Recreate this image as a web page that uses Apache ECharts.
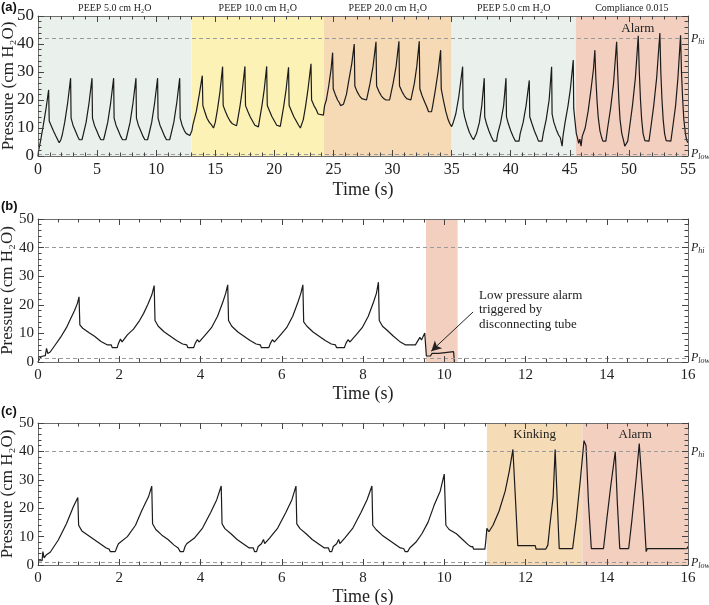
<!DOCTYPE html>
<html><head><meta charset="utf-8">
<script src="https://cdn.jsdelivr.net/npm/echarts@6/dist/echarts.min.js"></script>
<style>html,body{margin:0;padding:0;background:#fff}#c{width:709px;height:605px}</style>
</head><body><div id="c"></div>
<script>
// ---------------- data ----------------
const traceA = [
[0,0],[0.05,2],[0.2,5],[0.45,11],[0.7,17.5],[0.9,23.6],[0.95,12.5],[1.1,11],[1.3,9],[1.5,7.2],[1.7,5.5],[1.8,4.7],[1.9,4.7],
[1.95,6],[2.05,7.5],[2.26,12],[2.51,19],[2.76,27.8],[2.8,13.5],[2.96,11],[3.16,9],[3.36,7],[3.5,5.8],[3.72,5.8],
[3.82,7.5],[4.07,12],[4.32,19],[4.57,27.8],[4.61,13.5],[4.77,11],[4.97,9],[5.17,7],[5.32,5.8],[5.55,5.8],
[5.65,7.5],[5.9,12],[6.15,19],[6.4,27.8],[6.44,13.5],[6.6,11],[6.8,9],[7.0,7],[7.15,5.8],[7.44,5.8],
[7.54,7.5],[7.79,12],[8.04,19],[8.29,27.8],[8.33,13.5],[8.49,11],[8.69,9],[8.89,7],[9.04,5.8],[9.27,5.8],
[9.37,7.5],[9.62,12],[9.87,19],[10.12,27.8],[10.16,13.5],[10.32,11],[10.52,9],[10.72,7],[10.87,5.8],[11.14,5.8],
[11.24,7.5],[11.49,12],[11.74,19],[11.99,27.8],[12.03,13.5],[12.19,11],[12.39,9],[12.55,8],[12.7,7.8],[12.85,7.3],[12.98,6.8],
[13.02,9],[13.1,11],[13.4,16],[13.65,22],[13.9,28.7],[13.95,18],[14.1,16],[14.3,13.5],[14.5,12],[14.7,11],[14.85,10],[14.9,10],
[15.0,12],[15.2,17],[15.4,23],[15.62,31.9],[15.67,18],[15.85,16],[16.05,14],[16.25,12.5],[16.45,11.5],[16.6,10.8],[16.8,10.8],
[16.9,13],[17.1,18],[17.3,24],[17.51,32],[17.56,18],[17.75,16],[17.95,14],[18.15,12.5],[18.35,11],[18.5,10.4],[18.65,10.4],
[18.75,13],[18.95,18],[19.15,24],[19.35,32],[19.4,18],[19.6,16],[19.8,14],[20.0,12.5],[20.2,11],[20.35,10.6],[20.5,10.6],
[20.6,13],[20.8,18],[21.0,24],[21.2,31.7],[21.25,18],[21.45,16],[21.65,14],[21.85,12.5],[22.05,11],[22.2,10],[22.35,10.6],
[22.45,13],[22.65,18],[22.85,24],[23.1,32.9],[23.15,20],[23.35,18],[23.55,16.5],[23.7,15],[23.85,14.6],[24.15,14.6],
[24.2,15],[24.25,18],[24.4,20],[24.6,25],[24.8,31],[24.93,36.9],[24.98,24],[25.15,22],[25.35,20],[25.5,19],[25.6,18],[25.85,18.5],[25.95,19],
[26.1,22],[26.3,27],[26.55,33],[26.76,40],[26.81,25],[27.0,23],[27.2,21.5],[27.4,20.5],[27.55,20],[27.8,20],
[27.9,22],[28.1,26],[28.35,32],[28.6,40.8],[28.65,25],[28.85,23],[29.05,21.5],[29.25,20.5],[29.45,20],[29.75,20],
[29.85,22],[30.05,26],[30.3,32],[30.54,41],[30.59,25],[30.8,23],[31.0,21.5],[31.2,20.5],[31.35,20],[31.55,20],
[31.65,22],[31.85,26],[32.05,32],[32.26,41],[32.31,24],[32.5,21.5],[32.7,19.5],[32.9,17.5],[33.05,15.8],[33.3,15.8],
[33.4,18],[33.6,23],[33.85,30],[34.07,37.8],[34.12,24],[34.3,20],[34.5,16],[34.7,13],[34.85,11.5],[35.0,10.5],
[35.1,11.5],[35.35,15],[35.6,21],[35.93,31.9],[35.97,17],[36.1,14],[36.3,11],[36.5,8.5],[36.7,6.8],[36.85,5.8],[37.0,5.8],
[37.1,8],[37.35,12],[37.55,18],[37.76,27.8],[37.8,14],[37.95,11.5],[38.15,9],[38.35,7],[38.55,5.3],[38.8,5.3],
[38.9,8],[39.15,12],[39.4,18],[39.6,27.8],[39.64,14],[39.8,11.5],[40.0,9],[40.2,7],[40.4,5.3],[40.7,5.3],
[40.8,8],[41.05,12],[41.3,18],[41.57,27],[41.61,14],[41.8,11.5],[42.0,9],[42.2,7],[42.35,5.3],[42.65,5.3],
[42.75,8],[43.0,13],[43.25,20],[43.46,31.9],[43.5,15],[43.65,12],[43.85,9.5],[44.05,7.5],[44.2,6.5],[44.3,6.8],[44.35,3.5],[44.42,7],
[44.6,12],[44.85,18],[45.05,24],[45.29,34.3],[45.33,17],[45.45,12],[45.55,8],
[45.65,6.5],[45.75,4.5],[45.85,6],[45.95,3.5],[46.05,7],[46.15,6.5],[46.3,10],[46.55,16],[46.8,24],[47.0,31],[47.12,37.8],[47.2,28],[47.3,20],[47.4,14],[47.55,9],[47.7,6.5],[47.8,5.3],[48.05,5.3],
[48.2,10],[48.45,17],[48.7,26],[48.96,40.8],[49.05,30],[49.15,20],[49.25,13],[49.4,8],[49.55,5.5],[49.65,3.5],[49.8,3.8],[49.9,5.3],
[50.05,10],[50.3,18],[50.55,28],[50.79,42.9],[50.88,30],[50.98,20],[51.08,13],[51.2,8],[51.35,5.5],[51.45,5.3],[51.7,5.3],
[51.85,10],[52.1,18],[52.35,28],[52.62,43.9],[52.7,30],[52.8,20],[52.9,13],[53.02,8],[53.15,5.5],[53.25,5.3],[53.55,5.3],
[53.7,10],[53.95,18],[54.15,28],[54.37,43.1],[54.45,30],[54.55,20],[54.65,13],[54.78,8],[54.9,5.5],[55.0,4.7]
];
const traceB = [
[0,0],[0.05,1.5],[0.1,2],[0.18,2.2],[0.21,4.8],[0.24,3],[0.3,3.5],[0.4,5.5],[0.55,8.5],[0.7,12],[0.8,15],[0.9,18],[0.97,20.5],[1.01,22.8],[1.03,13],[1.1,11.8],[1.25,10.3],[1.4,8.9],[1.55,7.2],[1.7,6],[1.8,6],[1.83,5],[1.95,5],
[1.98,6.5],[2.03,8],[2.07,7],[2.2,9.5],[2.35,11.5],[2.5,14.5],[2.6,17],[2.7,20],[2.8,23.4],[2.86,26.7],[2.88,14.5],[2.96,12.5],[3.11,10.5],[3.26,9],[3.41,7.5],[3.56,6.3],[3.66,6],[3.69,5],
[3.83,5],[3.87,6.5],[3.92,7.8],[3.97,7],[4.12,9.5],[4.27,12],[4.42,16],[4.55,21],[4.62,24],[4.67,27],[4.69,14.5],[4.77,12.5],[4.92,10.5],[5.07,9],[5.22,7.5],[5.37,6.3],[5.47,6],[5.5,5],
[5.68,5],[5.72,6.5],[5.77,7.8],[5.82,7],[5.97,9.5],[6.12,12],[6.27,16],[6.4,21],[6.47,24],[6.52,27],[6.54,14],[6.56,13.5],[6.62,12.5],[6.77,10.5],[6.92,9],[7.07,7.5],[7.22,6.3],[7.32,6],[7.35,5],
[7.54,5],[7.58,6.5],[7.63,7.8],[7.68,7],[7.83,9.5],[7.98,12],[8.13,16],[8.26,21],[8.33,24],[8.38,27.9],[8.4,14.5],[8.48,12.5],[8.6,11],[8.75,9],[8.9,7.2],[9.04,6],[9.29,6],[9.4,8.6],[9.44,7.7],[9.52,10.1],
[9.56,2.1],[9.66,2.1],[9.7,3],[9.86,3],[9.9,3.6],[10.23,3.6],[10.25,0]
];
const traceC = [
[0,1.5],[0.1,1.5],[0.12,4.7],[0.15,2.5],[0.2,3.5],[0.3,4.5],[0.5,8.8],[0.7,14.5],[0.87,20.5],[0.98,23.8],[1.0,14],[1.08,12],[1.23,10.5],[1.38,9],[1.53,7.5],[1.68,6],[1.75,5.6],[1.78,4.7],[1.9,4.7],
[1.95,6.5],[1.98,7.5],[2.02,6.8],[2.2,10],[2.4,14],[2.55,19],[2.65,22],[2.72,24],[2.8,27.8],[2.82,14.5],[2.9,12.5],[3.05,10.5],[3.2,9],[3.35,7],[3.45,6],[3.5,4.7],[3.58,4.7],
[3.62,6.5],[3.66,7.5],[3.7,6.8],[3.85,9.5],[4.05,13],[4.25,18.5],[4.4,23],[4.51,27.8],[4.53,14.5],[4.6,12.8],[4.75,11],[4.9,9],[5.05,7.5],[5.2,6],[5.3,6],[5.33,4.7],[5.38,4.7],
[5.42,6.5],[5.5,7.5],[5.55,9],[5.58,7.5],[5.7,9.5],[5.9,13],[6.1,18.5],[6.25,23],[6.35,27.8],[6.37,14.5],[6.45,12.8],[6.6,11],[6.75,9],[6.9,7.5],[7.05,6],[7.15,6],[7.18,4.7],[7.23,4.7],
[7.27,6.5],[7.35,7.5],[7.4,9],[7.43,7.5],[7.55,9.5],[7.75,13],[7.95,18.5],[8.1,23],[8.22,27.8],[8.24,14],[8.32,12.5],[8.47,10.5],[8.62,9],[8.77,7.5],[8.92,6],[9.0,5.8],[9.04,4.7],[9.1,4.7],
[9.15,6],[9.3,8],[9.45,11],[9.6,15],[9.75,21],[9.9,26],[9.95,29],[10.0,32],[10.04,14],[10.12,12.5],[10.3,11],[10.45,9],[10.6,7],[10.65,6.5],[10.7,6.5],[10.72,5.6],[11.0,5.6],[11.02,8],[11.05,12.9],[11.1,11.7],
[11.2,14],[11.35,19],[11.5,26],[11.6,33],[11.69,40.7],[11.75,24],[11.81,6.8],[12.24,6.8],[12.26,5.6],[12.5,5.6],[12.55,7],[12.6,14],[12.68,24],[12.73,40.7],[12.78,23],[12.83,5.8],[13.16,5.8],
[13.25,16],[13.35,30],[13.44,43.8],[13.49,42],[13.55,22],[13.62,5.8],[13.92,5.8],[14.0,16],[14.1,28],[14.21,39.9],[14.26,22],[14.32,5.8],[14.54,5.8],
[14.62,16],[14.72,30],[14.8,42.8],[14.84,42.5],[14.9,22],[14.97,4.7],[15.0,5.8],[15.97,5.8],[16.0,6.5]
];
const bandEdgesA = [[0,13],[13,24.2],[24.2,35],[35,45.5],[45.5,55]];
const bandLabelsA = ['PEEP 5.0 cm H\u2082O','PEEP 10.0 cm H\u2082O','PEEP 20.0 cm H\u2082O','PEEP 5.0 cm H\u2082O','Compliance 0.015'];
const bandEdgesB = [[9.55,10.33]];
const bandEdgesC = [[11.05,13.4],[13.4,16]];
const bandLabelsC = ['Kinking','Alarm'];
const alarmLabelA = 'Alarm';
const thresholdsA = [42, 0.6];
const thresholdsB = [40, 1.3];
const thresholdsC = [40, 0.8];
const arrowB = [[10.71,17.5],[9.68,3.8]];
const noteB = 'Low pressure alarm\ntriggered by\ndisconnecting tube';
// axis scales: [max, major interval, minor splits]
const xScaleA = [55, 5, 5];
const xScaleBC = [16, 2, 4];
const yScale = [50, 10, 5];

// ---------------- styles ----------------
const FONT = "'Liberation Serif','Times New Roman',serif";
const AX = '#6e6e6e';
const TK = '#444444';
const TXT = '#222';
const colorsA = ['#eaf1ec','#fcf2b6','#f6d9b5','#eaf1ec','#f3cfc0'];
const colorsB = ['#f3cfc0'];
const colorsC = ['#f6dbb7','#f3cfc0'];

const panels = [
  {top:16, height:140, xs:xScaleA, xFont:16, yFont:17, xGap:25, yGap:21, trace:traceA, thr:thresholdsA,
   bands:bandEdgesA, labels:bandLabelsA, colors:colorsA, labelPos:'top'},
  {top:219, height:143, xs:xScaleBC, xFont:15, yFont:15, xGap:23, yGap:22, trace:traceB, thr:thresholdsB,
   bands:bandEdgesB, labels:[''], colors:colorsB, labelPos:'top'},
  {top:423, height:142, xs:xScaleBC, xFont:15, yFont:15, xGap:23, yGap:22, trace:traceC, thr:thresholdsC,
   bands:bandEdgesC, labels:bandLabelsC, colors:colorsC, labelPos:'insideTop'}
];

const tick = {show:true, inside:true, length:6, lineStyle:{color:TK, width:1}};
function minor(n){ return {show:true, splitNumber:n, length:3.5, lineStyle:{color:TK, width:1}}; }

const grid=[], xAxis=[], yAxis=[], series=[];
panels.forEach((p,i)=>{
  grid.push({left:38, right:21, top:p.top, height:p.height, outerBoundsMode:'none', containLabel:false});
  const line = {show:true, onZero:false, lineStyle:{color:AX, width:1}};
  xAxis.push({type:'value', gridIndex:i, min:0, max:p.xs[0], interval:p.xs[1], position:'bottom', z:6,
    axisLine:line, axisTick:tick, minorTick:minor(p.xs[2]), splitLine:{show:false},
    axisLabel:{show:true, margin:6, fontSize:p.xFont, fontFamily:FONT, color:TXT},
    name:'Time (s)', nameLocation:'middle', nameGap:p.xGap, nameMoveOverlap:false,
    nameTextStyle:{fontSize:18, fontFamily:FONT, color:TXT}});
  xAxis.push({type:'value', gridIndex:i, min:0, max:p.xs[0], interval:p.xs[1], position:'top', z:6,
    axisLine:line, axisTick:tick, minorTick:minor(p.xs[2]), splitLine:{show:false}, axisLabel:{show:false}});
  yAxis.push({type:'value', gridIndex:i, min:0, max:yScale[0], interval:yScale[1], position:'left', z:6,
    axisLine:line, axisTick:tick, minorTick:minor(yScale[2]), splitLine:{show:false},
    axisLabel:{show:true, margin:4, fontSize:p.yFont, fontFamily:FONT, color:TXT},
    name:'Pressure (cm H\u2082O)', nameLocation:'middle', nameGap:p.yGap, nameMoveOverlap:false,
    nameTextStyle:{fontSize:17, fontFamily:FONT, color:TXT}});
  yAxis.push({type:'value', gridIndex:i, min:0, max:yScale[0], interval:yScale[1], position:'right', z:6,
    axisLine:line, axisTick:tick, minorTick:minor(yScale[2]), splitLine:{show:false}, axisLabel:{show:false}});

  const areaData = p.bands.map((b,k)=>[
    {xAxis:b[0], itemStyle:{color:p.colors[k]},
     label:{show:!!p.labels[k], position:p.labelPos, distance: i===0?3:5, formatter:p.labels[k],
       fontFamily:FONT, fontSize: i===0?10:13, color:TXT}},
    {xAxis:b[1]}]);
  if (i===0) {
    areaData.push([{xAxis:bandEdgesA[4][0], itemStyle:{color:'rgba(0,0,0,0)'},
      label:{show:true, position:'insideTop', distance:6, offset:[6,0], formatter:alarmLabelA, fontFamily:FONT, fontSize:13, color:TXT}},
      {xAxis:bandEdgesA[4][1]}]);
  }
  series.push({type:'line', xAxisIndex:2*i, yAxisIndex:2*i, data:[], silent:true, z:1,
    markArea:{silent:true, data:areaData}});

  const rich = {p:{fontFamily:FONT, fontStyle:'italic', fontSize:12, color:TXT, lineHeight:14, verticalAlign:'middle'},
                s:{fontFamily:FONT, fontStyle:'italic', fontSize:8, color:TXT, lineHeight:8, verticalAlign:'bottom'}};
  series.push({type:'line', xAxisIndex:2*i, yAxisIndex:2*i, data:p.trace, showSymbol:false, symbol:'none',
    lineStyle:{color:'#1b1b1b', width:1.2}, z:3,
    markLine:{silent:true, symbol:'none', lineStyle:{type:[4,3], color:'#9a9a9a', width:1},
      label:{show:true, position:'end', distance:3, rich:rich},
      data:[{yAxis:p.thr[0], label:{formatter:'{p|P}{s|hi}'}},{yAxis:p.thr[1], label:{formatter:'{p|P}{s|low}'}}]}});
});

// arrow annotation in panel (b)
series.push({type:'line', xAxisIndex:2, yAxisIndex:2, data:[], silent:true, z:4,
  markLine:{silent:true, symbol:['none','arrow'], symbolSize:[8,10], lineStyle:{type:'solid', color:'#222', width:1},
    label:{show:false},
    data:[[{coord:arrowB[0]},{coord:arrowB[1]}]]}});

const chart = echarts.init(document.getElementById('c'), null, {renderer:'canvas'});
chart.setOption({
  animation:false,
  grid, xAxis, yAxis, series,
  graphic:[
    {type:'text', left:1, top:1, style:{text:'(a)', font:'bold 13px Arial, Liberation Sans, sans-serif', fill:'#111'}},
    {type:'text', left:1, top:200, style:{text:'(b)', font:'bold 13px Arial, Liberation Sans, sans-serif', fill:'#111'}},
    {type:'text', left:1, top:405, style:{text:'(c)', font:'bold 13px Arial, Liberation Sans, sans-serif', fill:'#111'}},
    {type:'text', left:479, top:288, style:{text:noteB, fontFamily:FONT, fontSize:13, lineHeight:14.5, fill:TXT}}
  ]
});
</script>
</body></html>
